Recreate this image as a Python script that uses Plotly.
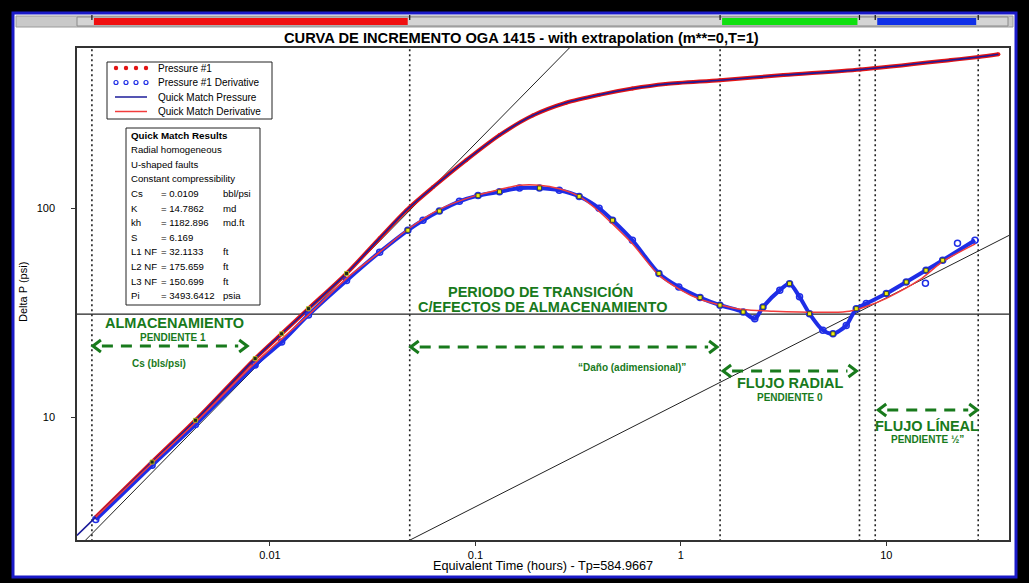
import numpy as np
import plotly.graph_objects as go

# ---------------- data ----------------
# Pressure #1 (data)
press_t = [0.00142, 0.00267, 0.00434, 0.00847, 0.0114, 0.0154, 0.0236, 0.0342, 0.0461, 0.0621,
           0.0902, 0.131, 0.190, 0.276, 0.400, 0.581, 0.843, 1.55, 3.16, 7.48, 20.6, 28.1, 35.1]
press_p = [3.33, 6.11, 9.68, 19.1, 25.1, 33.1, 48.8, 72.0, 97.7, 126,
           170, 224, 278, 320, 349, 374, 393, 410, 434, 461, 512, 530, 546]

# Pressure #1 derivative (data)
deriv_t = [0.00142, 0.00267, 0.00434, 0.00847, 0.0114, 0.0154, 0.0236, 0.0342, 0.0469, 0.0556,
           0.0668, 0.0836, 0.103, 0.131, 0.164, 0.205, 0.256, 0.320, 0.400, 0.465,
           0.581, 0.782, 0.977, 1.24, 1.55, 2.01, 2.29, 2.51, 3.03, 3.38,
           3.78, 4.23, 4.91, 5.50, 6.38, 7.14, 7.98, 10.0, 12.5, 15.6, 18.8, 27.0]
deriv_p = [3.24, 5.89, 9.23, 17.8, 22.9, 30.9, 45.2, 61.7, 78.5, 87.7,
           97.0, 108, 115, 120, 125, 125, 122, 114, 100, 87.7,
           70.3, 48.8, 42.0, 37.4, 34.4, 31.9, 29.6, 33.7, 40.6, 43.6,
           37.7, 31.3, 26.1, 25.1, 27.5, 33.1, 35.0, 39.1, 44.4, 50.5, 56.4, 70.3]
deriv_out_t = [15.5, 22.2]
deriv_out_p = [43.8, 68.0]

# Quick match pressure (model)
qmp_t = [0.00115, 0.00142, 0.00267, 0.00434, 0.00847, 0.0114, 0.0154, 0.0236, 0.0342, 0.0461,
         0.0621, 0.0902, 0.131, 0.190, 0.276, 0.400, 0.581, 0.843, 1.55, 3.16, 7.48, 20.6, 28.1, 35.1]
qmp_p = [2.72, 3.33, 6.11, 9.68, 19.1, 25.1, 33.1, 48.8, 72.0, 97.7,
         126, 170, 224, 278, 320, 349, 374, 393, 410, 434, 461, 512, 530, 546]

# Quick match derivative (model)
qmd_t = [0.00142, 0.00267, 0.00434, 0.00847, 0.0154, 0.0236, 0.0342, 0.0469, 0.0668, 0.100,
         0.131, 0.164, 0.205, 0.256, 0.320, 0.400, 0.465, 0.581, 0.782, 0.977,
         1.24, 1.55, 2.01, 2.82, 3.78, 5.47, 6.61, 7.98, 10.0, 14.5, 18.8, 27.1]
qmd_p = [3.33, 6.03, 9.44, 18.2, 30.9, 46.2, 61.7, 79.4, 98.9, 115,
         123, 129, 129, 124, 114, 96.6, 84.1, 67.6, 47.9, 41.2,
         36.7, 34.5, 32.8, 32.2, 31.9, 31.8, 32.2, 33.9, 37.1, 45.4, 55.6, 67.6]

# sample (highlighted) points
deriv_sample_idx = [8, 10, 12, 13, 15, 17, 19, 21, 23, 24, 25, 27, 29, 31, 33, 35, 37, 38, 39, 40]
press_sample_idx = [1, 2, 3, 4, 5, 6]

# straight-line diagnostics
unit_slope_coef = 2040.0      # P = C * t   (slope 1)
half_slope_coef = 11.8        # P = C * t^0.5 (slope 1/2)
radial_level = 31.2           # horizontal (slope 0) line, psi
marker_times = [0.00136, 0.0479, 1.552, 7.40, 8.83, 28.0]

x_ticks = [0.01, 0.1, 1, 10]
x_ticktext = ["0.01", "0.1", "1", "10"]
y_ticks = [10, 100]
y_ticktext = ["10", "100"]

title_text = "CURVA DE INCREMENTO OGA 1415 - with extrapolation (m**=0,T=1)"
x_title = "Equivalent Time (hours) - Tp=584.9667"
y_title = "Delta P (psi)"

legend_names = ["Pressure #1", "Pressure #1 Derivative", "Quick Match Pressure", "Quick Match Derivative"]
results_header = "Quick Match Results"
results_lines = ["Radial homogeneous", "U-shaped faults", "Constant compressibility"]
results_labels = ["Cs", "K", "kh", "S", "L1 NF", "L2 NF", "L3 NF", "Pi"]
results_values = ["= 0.0109", "= 14.7862", "= 1182.896", "= 6.169", "= 32.1133", "= 175.659", "= 150.699", "= 3493.6412"]
results_units = ["bbl/psi", "md", "md.ft", "", "ft", "ft", "ft", "psia"]

# ---------------- layout geometry ----------------
W, H = 1029, 583
ML, MR, MT, MB = 77, 20, 48, 43
x_rng = [-2.939, 1.597]
y_rng = [0.413, 2.767]
FONT = "Liberation Sans, Arial, sans-serif"
GREEN = "#187a1c"

def px(x):
    return (x - ML) / (W - ML - MR)

def py(y):
    return (H - MB - y) / (H - MT - MB)

def t2px(t):
    return ML + (np.log10(t) - x_rng[0]) / (x_rng[1] - x_rng[0]) * (W - ML - MR)

fig = go.Figure()

# straight diagnostic lines
t_ends = [10 ** (x_rng[0] - 0.1), 10 ** (x_rng[1] + 0.1)]
fig.add_trace(go.Scatter(x=t_ends, y=[unit_slope_coef * t for t in t_ends], mode="lines",
                         line=dict(color="#222222", width=1), showlegend=False, hoverinfo="skip"))
fig.add_trace(go.Scatter(x=t_ends, y=[half_slope_coef * t ** 0.5 for t in t_ends], mode="lines",
                         line=dict(color="#222222", width=1), showlegend=False, hoverinfo="skip"))
fig.add_trace(go.Scatter(x=t_ends, y=[radial_level, radial_level], mode="lines",
                         line=dict(color="#222222", width=1.2), showlegend=False, hoverinfo="skip"))
for tm in marker_times:
    fig.add_trace(go.Scatter(x=[tm, tm], y=[1, 2000], mode="lines",
                             line=dict(color="#222222", width=1.6, dash="2px,3px"),
                             showlegend=False, hoverinfo="skip"))

# data
fig.add_trace(go.Scatter(x=press_t, y=press_p, mode="lines+markers", name=legend_names[0],
                         line=dict(color="#e31414", width=4, shape="spline", smoothing=0.8),
                         marker=dict(color="#e31414", size=4), showlegend=False))
fig.add_trace(go.Scatter(x=deriv_t, y=deriv_p, mode="lines+markers", name=legend_names[1],
                         line=dict(color="#1e2de6", width=4, shape="spline", smoothing=0.8),
                         marker=dict(symbol="circle-open", color="#1e2de6", size=6, line=dict(width=1.5)),
                         showlegend=False))
fig.add_trace(go.Scatter(x=deriv_out_t, y=deriv_out_p, mode="markers",
                         marker=dict(symbol="circle-open", color="#1e2de6", size=6, line=dict(width=1.5)),
                         showlegend=False))
# models
fig.add_trace(go.Scatter(x=qmp_t, y=qmp_p, mode="lines", name=legend_names[2],
                         line=dict(color="#1c1c9a", width=1.6, shape="spline", smoothing=0.8), showlegend=False))
fig.add_trace(go.Scatter(x=qmd_t, y=qmd_p, mode="lines", name=legend_names[3],
                         line=dict(color="#f23c3c", width=1.5, shape="spline", smoothing=0.8), showlegend=False))
# highlighted samples
fig.add_trace(go.Scatter(x=[deriv_t[i] for i in deriv_sample_idx], y=[deriv_p[i] for i in deriv_sample_idx],
                         mode="markers", marker=dict(symbol="square", size=4, color="#f2ee10",
                                                     line=dict(color="#2a3a2a", width=0.8)),
                         showlegend=False, hoverinfo="skip"))
fig.add_trace(go.Scatter(x=[press_t[i] for i in press_sample_idx], y=[press_p[i] for i in press_sample_idx],
                         mode="markers", marker=dict(symbol="square", size=4, color="#1a2a1a",
                                                     line=dict(color="#c8c820", width=0.8)),
                         showlegend=False, hoverinfo="skip"))

shapes = []
annos = []

def rect(x0, y0, x1, y1, fill, line_color=None, lw=0, layer="below"):
    shapes.append(dict(type="rect", xref="paper", yref="paper", x0=px(x0), x1=px(x1), y0=py(y1), y1=py(y0),
                       fillcolor=fill, line=dict(color=line_color or fill, width=lw), layer=layer))

def seg(x0, y0, x1, y1, color, lw, dash="solid", layer="above"):
    shapes.append(dict(type="line", xref="paper", yref="paper", x0=px(x0), x1=px(x1), y0=py(y0), y1=py(y1),
                       line=dict(color=color, width=lw, dash=dash), layer=layer))

def path(pts, color, lw):
    d = "M " + " L ".join(f"{px(a):.5f},{py(b):.5f}" for a, b in pts)
    shapes.append(dict(type="path", xref="paper", yref="paper", path=d,
                       line=dict(color=color, width=lw), layer="above"))

def text(x, y, s, size, anchor="center", color="black", bold=False, angle=0):
    annos.append(dict(xref="paper", yref="paper", x=px(x), y=py(y), text=("<b>%s</b>" % s) if bold else s,
                      showarrow=False, xanchor=anchor, yanchor="middle", textangle=angle,
                      font=dict(family=FONT, size=size, color=color)))

def circle(x, y, r, color, fill):
    shapes.append(dict(type="circle", xref="paper", yref="paper", x0=px(x - r), x1=px(x + r),
                       y0=py(y + r), y1=py(y - r), line=dict(color=color, width=1.2), fillcolor=fill,
                       layer="above"))

# frame
rect(13, 13, 1016, 577, "white", "#1a1ac8", 3)
rect(16, 16, 1013, 27, "#c9c9c9", "#9a9a9a", 1)
rect(77, 17, 1008, 26, "#d4d4d4", "#8a8a8a", 1)
bar_cols = ["#f01010", "#10e010", "#1030e8"]
for (a, b), c in zip([(0, 1), (2, 3), (4, 5)], bar_cols):
    rect(t2px(marker_times[a]) + 2, 18, t2px(marker_times[b]) - 2, 25, c, c, 0)
for tm in marker_times:
    seg(t2px(tm), 15, t2px(tm), 20, "#111111", 1.2)

# arrows
def arrow(x0, x1, y):
    seg(x0 + 10, y, x1 - 10, y, GREEN, 3, dash="11px,8px")
    path([(x0 + 9, y - 6), (x0 + 1, y), (x0 + 9, y + 6)], GREEN, 3)
    path([(x1 - 9, y - 6), (x1 - 1, y), (x1 - 9, y + 6)], GREEN, 3)

arrow(t2px(marker_times[0]), t2px(0.00784), 346)
arrow(t2px(marker_times[1]), t2px(marker_times[2]) - 2, 347)
arrow(t2px(marker_times[2]) + 2, t2px(marker_times[3]) - 2, 371)
arrow(t2px(marker_times[4]) + 2, t2px(marker_times[5]), 410)

text(174, 323, "ALMACENAMIENTO", 14.5, color=GREEN, bold=True)
text(173, 337, "PENDIENTE 1", 10, color=GREEN, bold=True)
text(159, 363, "Cs (bls/psi)", 10, color=GREEN, bold=True)
text(540, 291, "PERIODO DE TRANSICIÓN", 14.5, color=GREEN, bold=True)
text(542, 307, "C/EFECTOS DE ALMACENAMIENTO", 14.5, color=GREEN, bold=True)
text(632, 367, "“Daño (adimensional)”", 10, color=GREEN, bold=True)
text(790, 383, "FLUJO RADIAL", 14.5, color=GREEN, bold=True)
text(790, 397, "PENDIENTE 0", 10, color=GREEN, bold=True)
text(927, 426, "FLUJO LÍNEAL", 14.5, color=GREEN, bold=True)
text(927, 439, "PENDIENTE ½”", 10, color=GREEN, bold=True)

# legend box
rect(107, 62, 272, 119, "white", "#222222", 1, layer="above")
rows = [68, 82.5, 97, 111.5]
for xx in [116, 126, 136, 146]:
    circle(xx, rows[0], 1.6, "#e31414", "#e31414")
    circle(xx, rows[1], 2.0, "#1e2de6", "rgba(0,0,0,0)")
seg(115, rows[2], 147, rows[2], "#1c1c9a", 1.5)
seg(115, rows[3], 147, rows[3], "#f23c3c", 1.5)
for r, name in zip(rows, legend_names):
    text(156, r, name, 10, anchor="left")

# results box
rect(126, 128, 260, 305, "white", "#222222", 1, layer="above")
text(129, 135, results_header, 9.8, anchor="left", bold=True)
ry = 149.6
for s in results_lines:
    text(129, ry, s, 9.6, anchor="left")
    ry += 14.6
for lab, val, unit in zip(results_labels, results_values, results_units):
    text(129, ry, lab, 9.6, anchor="left")
    text(159, ry, val, 9.6, anchor="left")
    if unit:
        text(221, ry, unit, 9.6, anchor="left")
    ry += 14.6

# titles
text(521, 38, title_text, 14.7, bold=True)
text(543, 566, x_title, 12.7)
text(23, 292, y_title, 11, angle=-90)

fig.update_layout(
    width=W, height=H, autosize=False,
    margin=dict(l=ML, r=MR, t=MT, b=MB, pad=0),
    paper_bgcolor="black", plot_bgcolor="white",
    shapes=shapes, annotations=annos, showlegend=False,
    font=dict(family=FONT, size=11, color="black"),
)
fig.update_xaxes(type="log", range=x_rng, tickvals=x_ticks, ticktext=x_ticktext, ticks="outside", ticklen=4,
                 tickcolor="#333333", showline=True, mirror=True, linecolor="#333333", linewidth=1.5,
                 showgrid=False, zeroline=False, tickfont=dict(size=11, family=FONT))
fig.update_yaxes(type="log", range=y_rng, tickvals=y_ticks, ticktext=y_ticktext, ticks="outside", ticklen=4,
                 tickcolor="#333333", showline=True, mirror=True, linecolor="#333333", linewidth=1.5,
                 showgrid=False, zeroline=False, tickfont=dict(size=11, family=FONT), ticklabelstandoff=14)

fig.write_html("out.html", config={"displayModeBar": False},
               post_script="document.body.style.margin='0';document.body.style.overflow='hidden';")
